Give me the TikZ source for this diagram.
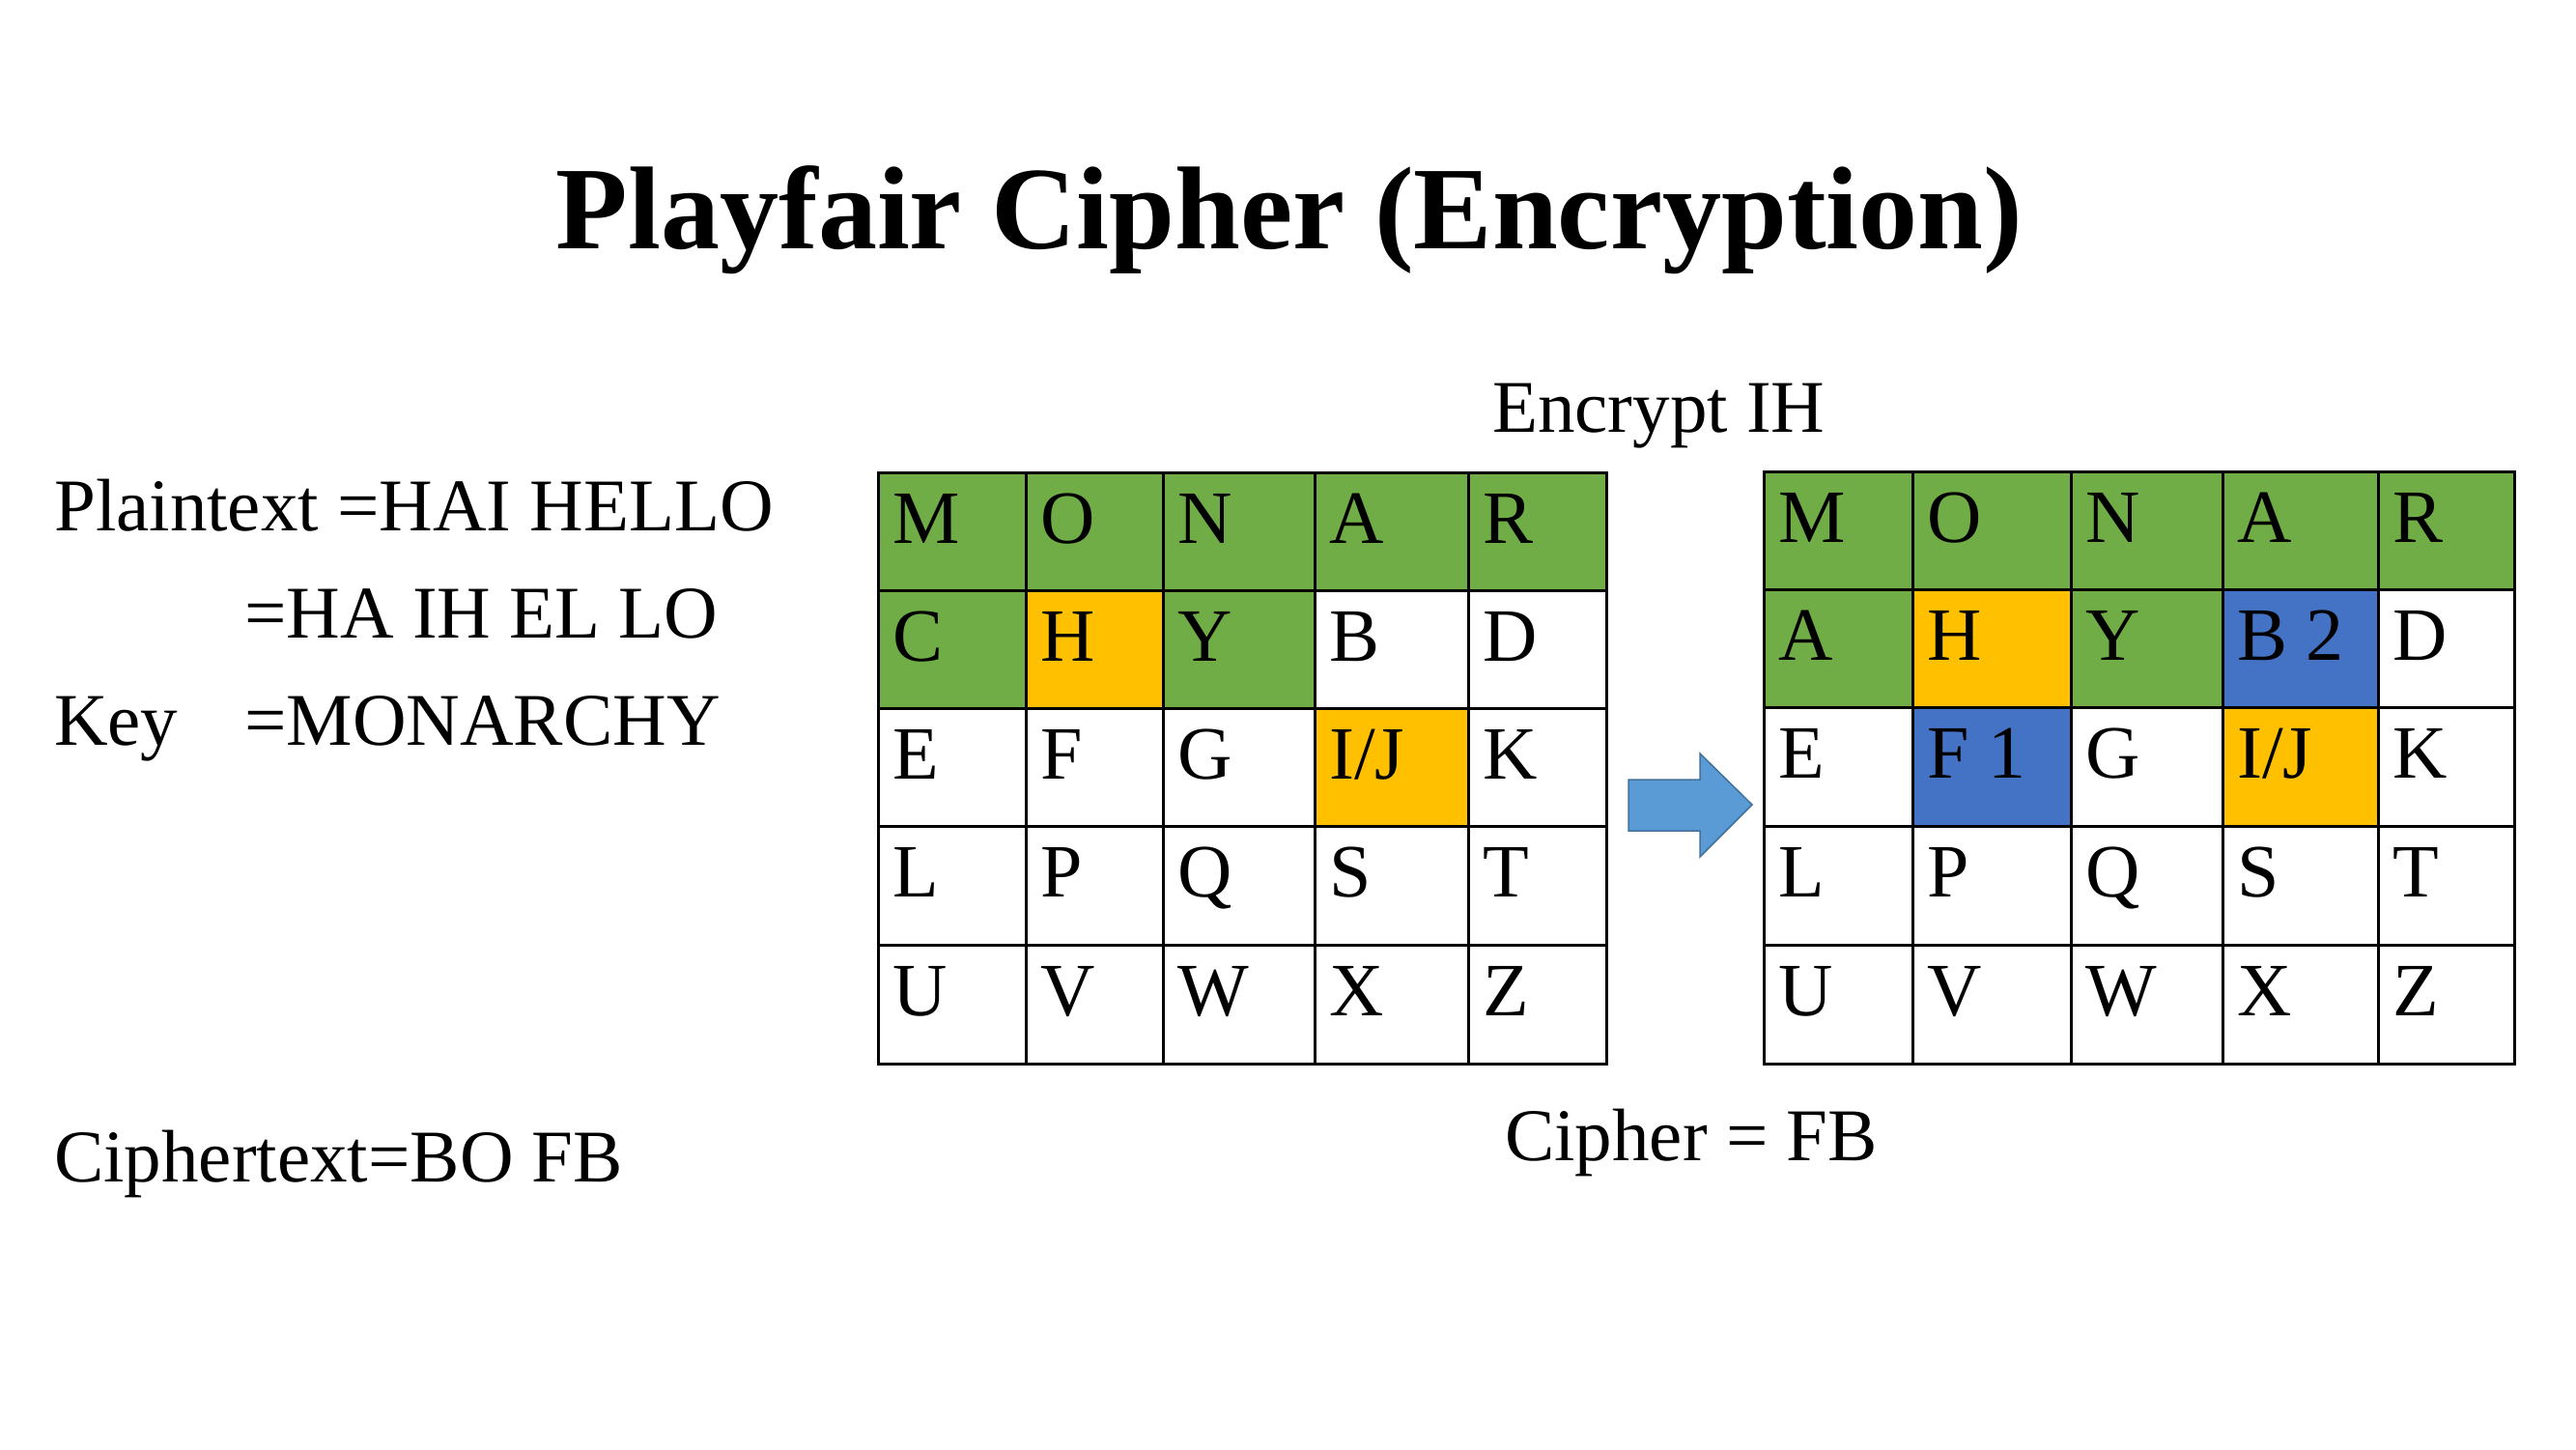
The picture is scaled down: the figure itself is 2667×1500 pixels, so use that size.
\documentclass[tikz,border=0pt]{standalone}
\usepackage{fontspec}
\setmainfont{Liberation Serif}
\definecolor{pfgreen}{HTML}{70AD47}
\definecolor{pforange}{HTML}{FFC000}
\definecolor{pfblue}{HTML}{4472C4}
\definecolor{arrowfill}{HTML}{5B9BD5}
\definecolor{arrowline}{HTML}{41719C}
\newcommand{\pfc}[7]{%
  \draw[gridline, fill=#6] (#2,#3) rectangle (#4,#5);
  \node[celltext] (#1) at ([shift={(15,73)}]#2,#3) {#7};
}
\begin{document}
\begin{tikzpicture}[x=1pt,y=-1pt,
  gridline/.style={draw=black, line width=3pt},
  celltext/.style={anchor=base west, inner sep=0pt, font=\fontsize{78}{90}\selectfont},
  bodytext/.style={anchor=base west, inner sep=0pt, font=\fontsize{77}{90}\selectfont},
  titletext/.style={anchor=base, inner sep=0pt, font=\bfseries\fontsize{122}{140}\selectfont}]
\useasboundingbox (0,0) rectangle (2667,1500);
\fill[white] (0,0) rectangle (2667,1500);

\node[titletext] (title) at (1335,257) {Playfair Cipher (Encryption)};

\node[bodytext] (plain) at (56,549) {Plaintext =HAI HELLO};
\node[bodytext] (pairs) at (253,660) {=HA IH EL LO};
\node[bodytext] (key) at (56,771) {Key};
\node[bodytext] (keyval) at (253,771) {=MONARCHY};
\node[bodytext] (ctext) at (56,1223) {Ciphertext=BO FB};
\node[bodytext] (enc) at (1545,447) {Encrypt IH};
\node[bodytext] (cipher) at (1558,1201) {Cipher = FB};

% left grid
\pfc{lM}{909}{489}{1062}{611}{pfgreen}{M}
\pfc{lO}{1062}{489}{1204}{611}{pfgreen}{O}
\pfc{lN}{1204}{489}{1361}{611}{pfgreen}{N}
\pfc{lA}{1361}{489}{1520}{611}{pfgreen}{A}
\pfc{lR}{1520}{489}{1663}{611}{pfgreen}{R}
\pfc{lC}{909}{611}{1062}{733}{pfgreen}{C}
\pfc{lH}{1062}{611}{1204}{733}{pforange}{H}
\pfc{lY}{1204}{611}{1361}{733}{pfgreen}{Y}
\pfc{lB}{1361}{611}{1520}{733}{white}{B}
\pfc{lD}{1520}{611}{1663}{733}{white}{D}
\pfc{lE}{909}{733}{1062}{855}{white}{E}
\pfc{lF}{1062}{733}{1204}{855}{white}{F}
\pfc{lG}{1204}{733}{1361}{855}{white}{G}
\pfc{lI}{1361}{733}{1520}{855}{pforange}{I/J}
\pfc{lK}{1520}{733}{1663}{855}{white}{K}
\pfc{lL}{909}{855}{1062}{978}{white}{L}
\pfc{lP}{1062}{855}{1204}{978}{white}{P}
\pfc{lQ}{1204}{855}{1361}{978}{white}{Q}
\pfc{lS}{1361}{855}{1520}{978}{white}{S}
\pfc{lT}{1520}{855}{1663}{978}{white}{T}
\pfc{lU}{909}{978}{1062}{1101}{white}{U}
\pfc{lV}{1062}{978}{1204}{1101}{white}{V}
\pfc{lW}{1204}{978}{1361}{1101}{white}{W}
\pfc{lX}{1361}{978}{1520}{1101}{white}{X}
\pfc{lZ}{1520}{978}{1663}{1101}{white}{Z}

% right grid
\pfc{rM}{1826}{488}{1980}{610}{pfgreen}{M}
\pfc{rO}{1980}{488}{2144}{610}{pfgreen}{O}
\pfc{rN}{2144}{488}{2301}{610}{pfgreen}{N}
\pfc{rA}{2301}{488}{2462}{610}{pfgreen}{A}
\pfc{rR}{2462}{488}{2603}{610}{pfgreen}{R}
\pfc{rC}{1826}{610}{1980}{732}{pfgreen}{A}
\pfc{rH}{1980}{610}{2144}{732}{pforange}{H}
\pfc{rY}{2144}{610}{2301}{732}{pfgreen}{Y}
\pfc{rB}{2301}{610}{2462}{732}{pfblue}{B 2}
\pfc{rD}{2462}{610}{2603}{732}{white}{D}
\pfc{rE}{1826}{732}{1980}{855}{white}{E}
\pfc{rF}{1980}{732}{2144}{855}{pfblue}{F 1}
\pfc{rG}{2144}{732}{2301}{855}{white}{G}
\pfc{rI}{2301}{732}{2462}{855}{pforange}{I/J}
\pfc{rK}{2462}{732}{2603}{855}{white}{K}
\pfc{rL}{1826}{855}{1980}{978}{white}{L}
\pfc{rP}{1980}{855}{2144}{978}{white}{P}
\pfc{rQ}{2144}{855}{2301}{978}{white}{Q}
\pfc{rS}{2301}{855}{2462}{978}{white}{S}
\pfc{rT}{2462}{855}{2603}{978}{white}{T}
\pfc{rU}{1826}{978}{1980}{1101}{white}{U}
\pfc{rV}{1980}{978}{2144}{1101}{white}{V}
\pfc{rW}{2144}{978}{2301}{1101}{white}{W}
\pfc{rX}{2301}{978}{2462}{1101}{white}{X}
\pfc{rZ}{2462}{978}{2603}{1101}{white}{Z}

% block arrow
\draw[fill=arrowfill, draw=arrowline, line width=1.5pt, line join=miter]
  (1686,807) -- (1760,807) -- (1760,780) -- (1814,833) -- (1760,887)
  -- (1760,860) -- (1686,860) -- cycle;
\end{tikzpicture}
\end{document}
